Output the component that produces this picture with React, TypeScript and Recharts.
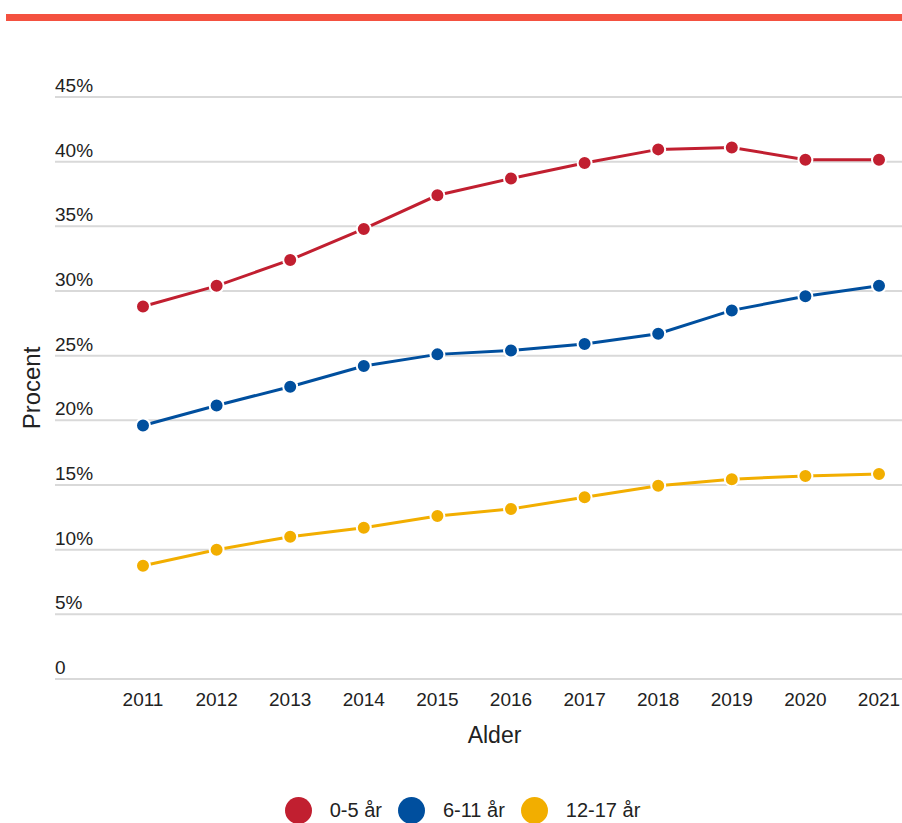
import React from 'react';
import { LineChart, Line, XAxis, YAxis, CartesianGrid, Legend } from 'recharts';

const years = ['2011', '2012', '2013', '2014', '2015', '2016', '2017', '2018', '2019', '2020', '2021'];
const age0to5 = [28.8, 30.4, 32.4, 34.8, 37.4, 38.7, 39.9, 40.95, 41.1, 40.15, 40.15];
const age6to11 = [19.6, 21.15, 22.6, 24.2, 25.1, 25.4, 25.9, 26.7, 28.5, 29.6, 30.4];
const age12to17 = [8.75, 10.0, 11.0, 11.7, 12.6, 13.15, 14.05, 14.95, 15.45, 15.7, 15.85];
const yTicks = [0, 5, 10, 15, 20, 25, 30, 35, 40, 45];

const seriesNames = ['0-5 år', '6-11 år', '12-17 år'];
const seriesColors = ['#C11F30', '#004F9E', '#F2AE00'];

const data = years.map((y, i) => ({
  year: y,
  a: age0to5[i],
  b: age6to11[i],
  c: age12to17[i],
}));

const FONT = '"Liberation Sans", Arial, sans-serif';

const YTick = (props: any) => {
  const { x, y, payload } = props;
  const v = payload.value;
  return (
    <text x={x} y={y - 5} textAnchor="start" fontSize={19} fill="#222" fontFamily={FONT}>
      {v === 0 ? '0' : `${v}%`}
    </text>
  );
};

const XTick = (props: any) => {
  const { x, y, payload } = props;
  return (
    <text x={x} y={y + 20} dy="0.35em" textAnchor="middle" fontSize={19} fill="#222" fontFamily={FONT}>
      {payload.value}
    </text>
  );
};

const XLabel = (props: any) => {
  const { viewBox } = props;
  const cx = viewBox.x + viewBox.width / 2 + 16;
  return (
    <text x={cx} y={viewBox.y + 56} dy="0.35em" textAnchor="middle" fontSize={23} fill="#222" fontFamily={FONT}>
      Alder
    </text>
  );
};

const YLabel = (props: any) => {
  const { viewBox } = props;
  const cy = viewBox.y + viewBox.height / 2;
  const x = 40;
  return (
    <text x={x} y={cy} textAnchor="middle" fontSize={24} fill="#222" fontFamily={FONT} transform={`rotate(-90, ${x}, ${cy})`}>
      Procent
    </text>
  );
};

const LegendContent = () => (
  <div style={{ height: 64, paddingTop: 38, boxSizing: 'border-box', display: 'flex', justifyContent: 'center', alignItems: 'flex-start', paddingLeft: 23 }}>
    {seriesNames.map((n, i) => (
      <div key={n} style={{ display: 'flex', alignItems: 'center', marginRight: i < 2 ? 16 : 0, height: 27 }}>
        <div style={{ width: 27, height: 27, borderRadius: '50%', background: seriesColors[i], marginRight: 18 }} />
        <span style={{ fontSize: 20, color: '#222', fontFamily: FONT }}>{n}</span>
      </div>
    ))}
  </div>
);

export default function App() {
  return (
    <div style={{ position: 'relative', width: 902, height: 823, overflow: 'hidden' }}>
      <style>{'html,body{margin:0;padding:0;overflow:hidden;}'}</style>
      <div style={{ position: 'absolute', top: 14, left: 6, width: 896, height: 7, background: '#F45140' }} />
      <div style={{ position: 'absolute', top: 0, left: 0 }}>
        <LineChart width={902} height={823} data={data} margin={{ top: 97, right: 0, left: 0, bottom: 0 }}>
          <CartesianGrid vertical={false} stroke="#d9d9d9" strokeWidth={2} />
          <XAxis
            dataKey="year"
            axisLine={false}
            tickLine={false}
            tickSize={0}
            tickMargin={0}
            height={80}
            padding={{ left: 88, right: 23 }}
            tick={<XTick />}
            interval={0}
            label={<XLabel />}
          />
          <YAxis
            domain={[0, 45]}
            ticks={yTicks}
            width={55}
            axisLine={false}
            tickLine={false}
            tickSize={0}
            tickMargin={0}
            tick={<YTick />}
            label={<YLabel />}
          />
          <Legend verticalAlign="bottom" content={<LegendContent />} />
          <Line dataKey="a" name={seriesNames[0]} stroke={seriesColors[0]} strokeWidth={3} dot={{ r: 7, fill: seriesColors[0], stroke: '#fff', strokeWidth: 2 }} isAnimationActive={false} />
          <Line dataKey="b" name={seriesNames[1]} stroke={seriesColors[1]} strokeWidth={3} dot={{ r: 7, fill: seriesColors[1], stroke: '#fff', strokeWidth: 2 }} isAnimationActive={false} />
          <Line dataKey="c" name={seriesNames[2]} stroke={seriesColors[2]} strokeWidth={3} dot={{ r: 7, fill: seriesColors[2], stroke: '#fff', strokeWidth: 2 }} isAnimationActive={false} />
        </LineChart>
      </div>
    </div>
  );
}
